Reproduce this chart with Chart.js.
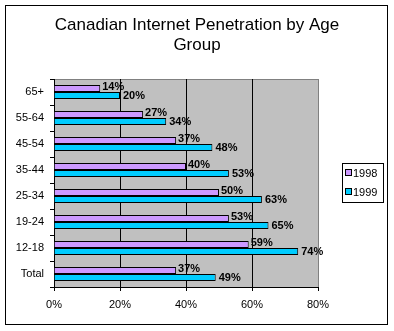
<!DOCTYPE html>
<html>
<head>
<meta charset="utf-8">
<script src="https://cdn.jsdelivr.net/npm/chart.js@4/dist/chart.umd.min.js"></script>
<style>
  body { margin: 0; background: #fff; }
  canvas { display: block; }
</style>
</head>
<body>
<canvas id="chart" width="394" height="331"></canvas>
<script>
const ageGroups = ['65+', '55-64', '45-54', '35-44', '25-34', '19-24', '12-18', 'Total'];
const pct1998 = [14, 27, 37, 40, 50, 53, 59, 37];
const pct1999 = [20, 34, 48, 53, 63, 65, 74, 49];
const xTicks = [0, 20, 40, 60, 80];
const titleLines = ['Canadian Internet Penetration by Age', 'Group'];

const font = "Arial, 'Liberation Sans', sans-serif";

// grey plot area, frame, title, data labels and legend box
const frame = {
    id: 'frame',
    beforeDraw(chart) {
        const c = chart.ctx;
        const a = chart.chartArea;
        c.save();
        c.fillStyle = '#fff';
        c.fillRect(0, 0, chart.width, chart.height);
        c.strokeStyle = '#000';
        c.lineWidth = 1;
        c.strokeRect(5.5, 5.5, 382, 319);
        c.fillStyle = '#c0c0c0';
        c.fillRect(a.left, a.top, a.right - a.left, a.bottom - a.top);
        c.strokeStyle = '#808080';
        c.beginPath();
        c.moveTo(a.left, a.top + 0.5);
        c.lineTo(a.right + 0.5, a.top + 0.5);
        c.stroke();

        c.fillStyle = '#000';
        c.font = '17px ' + font;
        c.textAlign = 'center';
        c.textBaseline = 'middle';
        titleLines.forEach((t, i) => c.fillText(t, 197, 25 + i * 20));
        c.restore();
    },
    afterDatasetsDraw(chart) {
        const c = chart.ctx;
        c.save();
        c.font = "bold 11px 'Liberation Sans Narrow', 'Arial Narrow', Arial, sans-serif";
        c.fillStyle = '#000';
        c.textBaseline = 'middle';
        chart.data.datasets.forEach((ds, i) => {
            chart.getDatasetMeta(i).data.forEach((bar, j) => {
                const dy = i === 0 ? -2 : 0;
                const dx = i === 0 ? 2 : 3;
                c.fillText(ds.data[j] + '%', bar.x + dx, bar.y + dy);
            });
        });

        // legend box
        c.fillStyle = '#fff';
        c.fillRect(342, 163, 41, 39);
        c.strokeStyle = '#000';
        c.strokeRect(342.5, 163.5, 41, 39);
        c.font = '11px ' + font;
        chart.data.datasets.forEach((ds, i) => {
            const y = 173 + i * 19;
            c.fillStyle = ds.backgroundColor;
            c.fillRect(346, y - 3, 6, 6);
            c.strokeStyle = '#000';
            c.strokeRect(345.5, y - 3.5, 6, 6);
            c.fillStyle = '#000';
            c.fillText(ds.label, 353, y + 0.5);
        });
        c.restore();
    }
};

new Chart(document.getElementById('chart'), {
    type: 'bar',
    data: {
        labels: ageGroups,
        datasets: [
            { label: '1998', data: pct1998, backgroundColor: '#cc99ff', borderColor: '#000', borderWidth: 1 },
            { label: '1999', data: pct1999, backgroundColor: '#00ccff', borderColor: '#000', borderWidth: 1 }
        ]
    },
    options: {
        indexAxis: 'y',
        responsive: false,
        animation: false,
        categoryPercentage: 0.54,
        barPercentage: 1,
        layout: { padding: { left: 0, right: 76, top: 79, bottom: 0 } },
        plugins: {
            legend: { display: false },
            tooltip: { enabled: false },
            title: { display: false }
        },
        scales: {
            x: {
                min: 0,
                max: 80,
                afterBuildTicks(axis) { axis.ticks = xTicks.map(v => ({ value: v })); },
                afterFit(axis) { axis.height = 44; },
                ticks: {
                    color: '#000',
                    padding: 7,
                    font: { family: font, size: 11 },
                    callback: v => v + '%'
                },
                grid: {
                    color: ctx => (ctx.tick && ctx.tick.value === 80) ? '#808080' : '#000',
                    tickColor: '#000',
                    tickLength: 4
                },
                border: { color: '#000' }
            },
            y: {
                afterFit(axis) { axis.width = 54; },
                ticks: {
                    color: '#000',
                    padding: 6,
                    font: { family: font, size: 11 }
                },
                grid: {
                    offset: true,
                    drawOnChartArea: false,
                    color: '#000',
                    tickLength: 4
                },
                border: { color: '#000' }
            }
        }
    },
    plugins: [frame]
});
</script>
</body>
</html>
